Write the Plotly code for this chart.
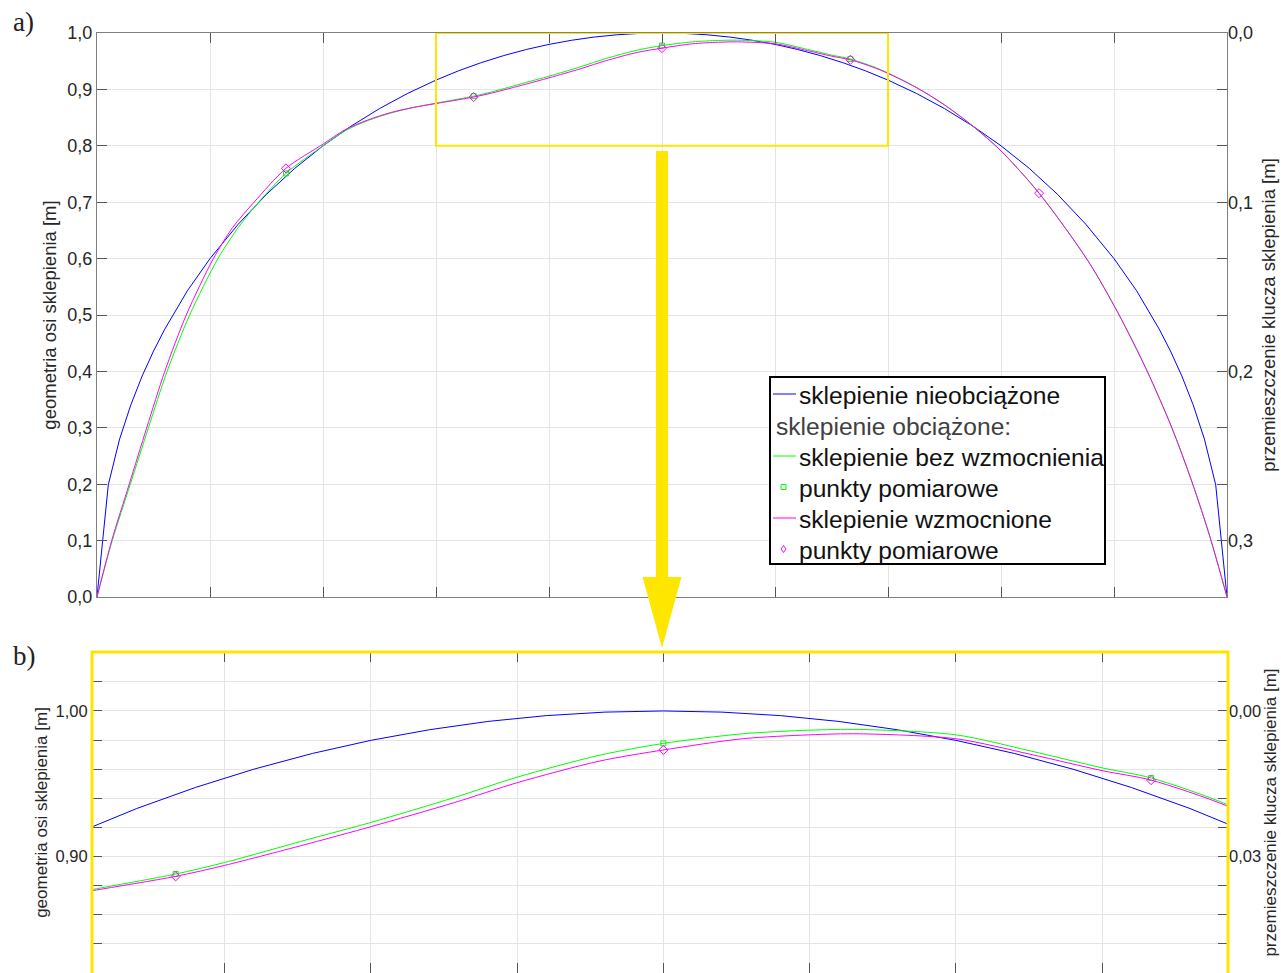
import plotly.graph_objects as go

# ---------------- data ----------------
# unloaded vault (sklepienie nieobciążone)
x_blue = [0, 0.1, 0.2, 0.3, 0.4, 0.5, 0.6, 0.8, 1.0, 1.25, 1.5, 1.75, 2.0, 2.25, 2.5, 2.75,
          3.0, 3.2, 3.4, 3.6, 3.8, 4.0, 4.2, 4.4, 4.6, 4.8, 5.0, 5.2, 5.4, 5.6, 5.8, 6.0,
          6.2, 6.4, 6.6, 6.8, 7.0,
          7.25, 7.5, 7.75, 8.0, 8.25, 8.5, 8.75, 9.0, 9.2, 9.4, 9.5, 9.6, 9.7, 9.8, 9.9, 10.0]
y_blue = [0, 0.199, 0.280, 0.341, 0.392, 0.436, 0.475, 0.543, 0.600, 0.661, 0.714, 0.760,
          0.800, 0.835, 0.866, 0.893,
          0.9165, 0.9330, 0.9474, 0.9600, 0.9708, 0.9798, 0.9871, 0.9928, 0.9968, 0.9992,
          1.0, 0.9992, 0.9968, 0.9928, 0.9871, 0.9798, 0.9708, 0.9600, 0.9474, 0.9330, 0.9165,
          0.893, 0.866, 0.835, 0.800, 0.760, 0.714, 0.661, 0.600, 0.543, 0.475, 0.436, 0.392,
          0.341, 0.280, 0.199, 0]

# loaded vault without strengthening (sklepienie bez wzmocnienia)
x_green = [0, 0.135, 0.295, 0.455, 0.62, 0.82, 1.07, 1.25, 1.43, 1.672, 2.0, 2.2, 2.4, 2.6,
           2.8, 3.047, 3.333, 3.5, 3.79, 4.0, 4.285, 4.5, 4.78, 5.0, 5.27, 5.5, 5.67, 6.0,
           6.26, 6.5, 6.667, 6.93, 7.25, 7.5, 7.75, 8.0, 8.337, 8.77, 9.04, 9.29, 9.51,
           9.69, 9.85, 10.0]
y_green = [0, 0.1, 0.2, 0.3, 0.4, 0.5, 0.6, 0.655, 0.70, 0.751, 0.800, 0.827, 0.845, 0.858,
           0.868, 0.8773, 0.888, 0.8959, 0.912, 0.9234, 0.9405, 0.9545, 0.9695, 0.9777,
           0.9843, 0.9868, 0.9873, 0.9836, 0.9723, 0.9609, 0.954, 0.9355, 0.9035, 0.8725,
           0.835, 0.791, 0.716, 0.596, 0.502, 0.402, 0.301, 0.204, 0.106, 0]

# loaded vault with strengthening (sklepienie wzmocnione)
x_magenta = [0, 0.13, 0.285, 0.44, 0.60, 0.79, 1.03, 1.20, 1.39, 1.672, 2.0, 2.2, 2.4, 2.6,
             2.8, 3.047, 3.333, 3.5, 3.79, 4.0, 4.285, 4.5, 4.78, 5.0, 5.27, 5.5, 5.67, 6.0,
             6.26, 6.5, 6.667, 6.93, 7.25, 7.5, 7.75, 8.0, 8.337, 8.77, 9.04, 9.29, 9.51,
             9.69, 9.85, 10.0]
y_magenta = [0, 0.1, 0.2, 0.3, 0.4, 0.5, 0.6, 0.655, 0.70, 0.760, 0.803, 0.829, 0.846, 0.859,
             0.868, 0.8765, 0.8864, 0.8939, 0.909, 0.9205, 0.937, 0.9507, 0.9655, 0.9732,
             0.9809, 0.9836, 0.9843, 0.9809, 0.970, 0.959, 0.9525, 0.9345, 0.9035, 0.8725,
             0.835, 0.791, 0.716, 0.596, 0.502, 0.402, 0.301, 0.204, 0.106, 0]

# measurement points (punkty pomiarowe)
x_pts_green = [1.672, 3.333, 5.0, 6.667]
y_pts_green = [0.751, 0.888, 0.9777, 0.954]
x_pts_magenta = [1.672, 3.333, 5.0, 6.667, 8.337]
y_pts_magenta = [0.760, 0.8864, 0.9732, 0.9525, 0.716]

# axis ticks
xa_ticks = [0, 1, 2, 3, 4, 5, 6, 7, 8, 9, 10]
ya_ticks = [0.0, 0.1, 0.2, 0.3, 0.4, 0.5, 0.6, 0.7, 0.8, 0.9, 1.0]
ya_labels = ["0,0", "0,1", "0,2", "0,3", "0,4", "0,5", "0,6", "0,7", "0,8", "0,9", "1,0"]
ya2_ticks = [0.0, 0.1, 0.2, 0.3]
ya2_labels = ["0,0", "0,1", "0,2", "0,3"]
xb_ticks = [3.5, 4.0, 4.5, 5.0, 5.5, 6.0, 6.5]
yb_ticks = [0.82, 0.84, 0.86, 0.88, 0.90, 0.92, 0.94, 0.96, 0.98, 1.00, 1.02, 1.04]
yb_labels = ["", "", "", "", "0,90", "", "", "", "", "1,00", "", ""]
yb2_ticks = [0.0, 0.0333333]
yb2_labels = ["0,00", "0,03"]

# legend entries
legend_labels = ["sklepienie nieobciążone", "sklepienie obciążone:", "sklepienie bez wzmocnienia",
                 "punkty pomiarowe", "sklepienie wzmocnione", "punkty pomiarowe"]

# ---------------- figure ----------------
W, H = 1281, 973
BLUE, GREEN, MAGENTA = "#0000FF", "#00FF00", "#FF00FF"
YELLOW = "#FFE600"
FONT = "Liberation Sans, Arial, sans-serif"
SERIF = "Liberation Serif, Times New Roman, serif"
GRID = "#e4e4e4"
AXLINE = "#808080"
TXT = "#262626"


def px(xp):
    return xp / W


def py(yp):
    return 1 - yp / H


fig = go.Figure()


def add_curves(xref, yref):
    fig.add_trace(go.Scatter(x=x_blue, y=y_blue, mode="lines", xaxis=xref, yaxis=yref,
                             line=dict(color=BLUE, width=1), name=legend_labels[0]))
    fig.add_trace(go.Scatter(x=x_green, y=y_green, mode="lines", xaxis=xref, yaxis=yref,
                             line=dict(color=GREEN, width=1, shape="spline", smoothing=0.8),
                             name=legend_labels[2]))
    fig.add_trace(go.Scatter(x=x_pts_green, y=y_pts_green, mode="markers", xaxis=xref, yaxis=yref,
                             marker=dict(symbol="square-open", size=5, color=GREEN,
                                         line=dict(width=1, color=GREEN)),
                             name=legend_labels[3]))
    fig.add_trace(go.Scatter(x=x_magenta, y=y_magenta, mode="lines", xaxis=xref, yaxis=yref,
                             line=dict(color=MAGENTA, width=1, shape="spline", smoothing=0.8),
                             name=legend_labels[4]))
    fig.add_trace(go.Scatter(x=x_pts_magenta, y=y_pts_magenta, mode="markers", xaxis=xref, yaxis=yref,
                             marker=dict(symbol="diamond-open", size=7, color=MAGENTA,
                                         line=dict(width=1, color=MAGENTA)),
                             name=legend_labels[5]))


add_curves("x", "y")
add_curves("x2", "y3")
# dummy traces so that the right-hand axes exist
fig.add_trace(go.Scatter(x=[None], y=[None], xaxis="x", yaxis="y2", hoverinfo="skip"))
fig.add_trace(go.Scatter(x=[None], y=[None], xaxis="x2", yaxis="y4", hoverinfo="skip"))

common_x = dict(showticklabels=False, ticks="inside", ticklen=10, tickcolor="#555555",
                showgrid=True, gridcolor=GRID, gridwidth=1, showline=True, linecolor=AXLINE,
                linewidth=1, mirror="ticks", zeroline=False, tickmode="array", automargin=False)


def left_y(size):
    return dict(ticks="inside", ticklen=10, tickcolor="#555555", showgrid=True, gridcolor=GRID,
                gridwidth=1, showline=True, linecolor=AXLINE, linewidth=1, mirror="ticks",
                zeroline=False, tickmode="array", automargin=False,
                tickfont=dict(size=size, color=TXT, family=FONT))


def right_y(size):
    return dict(side="right", ticks="", showgrid=False, showline=False, zeroline=False,
                tickmode="array", automargin=False, tickfont=dict(size=size, color=TXT, family=FONT))


fig.update_layout(
    width=W, height=H, margin=dict(l=0, r=0, t=0, b=0, autoexpand=False),
    paper_bgcolor="white", plot_bgcolor="white", showlegend=False,
    font=dict(family=FONT, size=17, color=TXT),
    xaxis=dict(domain=[px(97), px(1227)], range=[0, 10], anchor="y", tickvals=xa_ticks, **common_x),
    yaxis=dict(domain=[py(597), py(33)], range=[0, 1], anchor="x", tickvals=ya_ticks, ticktext=ya_labels,
               title=dict(text="geometria osi sklepienia [m]", font=dict(size=18.5, color=TXT), standoff=5),
               **left_y(18)),
    yaxis2=dict(overlaying="y", anchor="x", range=[1 / 3, 0], tickvals=ya2_ticks, ticktext=ya2_labels,
                title=dict(text="przemieszczenie klucza sklepienia [m]", font=dict(size=18.5, color=TXT),
                           standoff=10),
                **right_y(18)),
    xaxis2=dict(domain=[px(92), px(1228)], range=[3.047, 6.93], anchor="y3", tickvals=xb_ticks, **common_x),
    yaxis3=dict(domain=[0.0, py(652)], range=[0.82, 1.0405], anchor="x2", tickvals=yb_ticks, ticktext=yb_labels,
                title=dict(text="geometria osi sklepienia [m]", font=dict(size=17, color=TXT), standoff=3),
                **left_y(16.5)),
    yaxis4=dict(overlaying="y3", anchor="x2", range=[(1 - 0.82) / 3, (1 - 1.0405) / 3],
                tickvals=yb2_ticks, ticktext=yb2_labels,
                title=dict(text="przemieszczenie klucza sklepienia [m]", font=dict(size=17, color=TXT),
                           standoff=3),
                **right_y(16.5)),
)

# zoom frame in panel a and frame around panel b (its bottom edge runs past the page)
fig.add_shape(type="rect", xref="x", yref="y", x0=3, x1=7, y0=0.8, y1=1.0,
              line=dict(color=YELLOW, width=2), fillcolor="rgba(0,0,0,0)", layer="above")
fig.add_shape(type="rect", xref="x2 domain", yref="y3 domain", x0=0, x1=1, y0=-0.03, y1=1,
              line=dict(color=YELLOW, width=3), fillcolor="rgba(0,0,0,0)", layer="above")

# arrow from the frame in a) to panel b)
sx, hx = 0.053, 0.172
y_top, y_base, y_tip = py(151), py(577), py(648)
arrow = (f"M {5 - sx},{y_top} L {5 + sx},{y_top} L {5 + sx},{y_base} L {5 + hx},{y_base} "
         f"L 5,{y_tip} L {5 - hx},{y_base} L {5 - sx},{y_base} Z")
fig.add_shape(type="path", xref="x", yref="paper", path=arrow, fillcolor=YELLOW,
              line=dict(width=0), layer="above")

# ---- legend box (drawn like the MATLAB legend of the original) ----
rows = [394, 425, 456, 487, 518, 549]
fig.add_shape(type="rect", xref="paper", yref="paper", x0=px(770), x1=px(1105), y0=py(564), y1=py(377),
              line=dict(color="black", width=2), fillcolor="white", layer="above")
for r, c in ((rows[0], BLUE), (rows[2], GREEN), (rows[4], MAGENTA)):
    fig.add_shape(type="line", xref="paper", yref="paper", x0=px(773), x1=px(796), y0=py(r), y1=py(r),
                  line=dict(color=c, width=1), layer="above")
fig.add_shape(type="rect", xref="paper", yref="paper", x0=px(781), x1=px(786), y0=py(rows[3] + 2.5),
              y1=py(rows[3] - 2.5), line=dict(color=GREEN, width=1), fillcolor="rgba(0,0,0,0)", layer="above")
dpath = (f"M {px(783.5)},{py(rows[5] - 3.5)} L {px(786)},{py(rows[5])} L {px(783.5)},{py(rows[5] + 3.5)} "
         f"L {px(781)},{py(rows[5])} Z")
fig.add_shape(type="path", xref="paper", yref="paper", path=dpath, line=dict(color=MAGENTA, width=1),
              fillcolor="rgba(0,0,0,0)", layer="above")
for i, (r, t) in enumerate(zip(rows, legend_labels)):
    fig.add_annotation(x=px(774 if i == 1 else 796.5), y=py(r + 1), xref="paper", yref="paper", text=t,
                       showarrow=False, xanchor="left", yanchor="middle",
                       font=dict(family=FONT, size=24.6, color="#404040" if i == 1 else "#111111"))

# panel letters
fig.add_annotation(x=px(11), y=py(22), xref="paper", yref="paper", text="a)", showarrow=False,
                   xanchor="left", yanchor="middle", font=dict(family=SERIF, size=27, color="#222222"))
fig.add_annotation(x=px(11), y=py(656), xref="paper", yref="paper", text="b)", showarrow=False,
                   xanchor="left", yanchor="middle", font=dict(family=SERIF, size=27, color="#222222"))

fig.write_html("out.html", config={"displayModeBar": False},
               post_script="document.body.style.margin='0';document.body.style.overflow='hidden';")
